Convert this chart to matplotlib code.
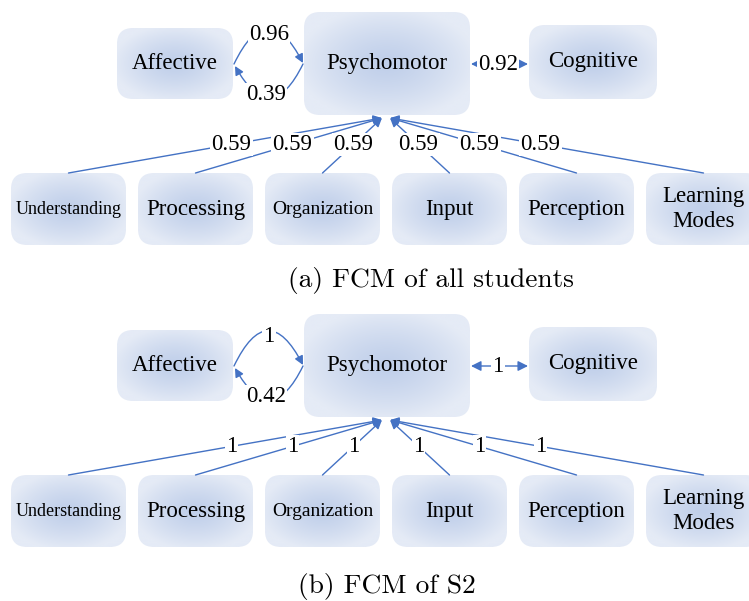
import numpy as np
import matplotlib
matplotlib.use('Agg')
import matplotlib.pyplot as plt
from matplotlib.patches import FancyBboxPatch, FancyArrowPatch

# node names and edge weights
top_nodes = ['Affective', 'Psychomotor', 'Cognitive']
style_nodes = ['Understanding', 'Processing', 'Organization', 'Input', 'Perception', 'Learning\nModes']
style_font = [13, 16.5, 14, 16.5, 16.5, 16.5]

panels = ['(a) FCM of all students', '(b) FCM of S2']
aff_to_psy = ['0.96', '1']
psy_to_aff = ['0.39', '0.42']
psy_cog = ['0.92', '1']
style_to_psy = [['0.59'] * 6, ['1'] * 6]

BLUE = '#4472c4'
SERIF = 'Liberation Serif'

fig = plt.figure(figsize=(7.49, 6.01), dpi=100)
ax = fig.add_axes([0, 0, 1, 1])
ax.set_xlim(0, 749)
ax.set_ylim(601, 0)
ax.axis('off')

c_in = np.array([192, 207, 234]) / 255
c_out = np.array([229, 235, 246]) / 255


def node(x0, y0, x1, y1, text, fs):
    patch = FancyBboxPatch((x0, y0), x1 - x0, y1 - y0,
                           boxstyle='round,pad=0,rounding_size=16',
                           fc='none', ec='none')
    ax.add_patch(patch)
    yy, xx = np.mgrid[-1:1:80j, -1:1:120j]
    d = np.clip(np.sqrt(xx ** 2 + yy ** 2) / 1.1, 0, 1) ** 1.3
    img = c_in[None, None, :] + (c_out - c_in)[None, None, :] * d[..., None]
    im = ax.imshow(img, extent=(x0, x1, y1, y0), interpolation='bilinear', zorder=1)
    im.set_clip_path(patch)
    ax.text((x0 + x1) / 2, (y0 + y1) / 2, text, ha='center', va='center',
            fontsize=fs, family=SERIF, linespacing=1.25, zorder=3)


def label(x, y, s):
    ax.text(x, y, s, ha='center', va='center', fontsize=16.5, family=SERIF, zorder=4,
            bbox=dict(boxstyle='square,pad=0.05', fc='white', ec='none'))


def arrow(p0, p1, style='-|>', conn='arc3', ms=13):
    a = FancyArrowPatch(p0, p1, arrowstyle=style, mutation_scale=ms, color=BLUE,
                        lw=1.0, connectionstyle=conn, shrinkA=0, shrinkB=0, zorder=2)
    ax.add_patch(a)


caption_pos = [(431, 281), (387, 586)]

for k in range(2):
    dy = k * 302
    node(117, 28 + dy, 233, 99 + dy, top_nodes[0], 16.5)
    node(304, 12 + dy, 470, 115 + dy, top_nodes[1], 16.5)
    node(529, 25 + dy, 657, 99 + dy, top_nodes[2], 16.5)

    # Affective <-> Psychomotor arcs
    arrow((234, 64 + dy), (303, 63 + dy), conn='arc3,rad=-1.0')
    arrow((303, 64 + dy), (235, 66 + dy), conn='arc3,rad=-0.95')
    label(269, 34 + dy, aff_to_psy[k])
    label(266, 95 + dy, psy_to_aff[k])

    # Psychomotor <-> Cognitive
    arrow((471, 64 + dy), (528, 64 + dy), style='<|-|>', ms=15)
    label(498, 64 + dy, psy_cog[k])

    # learning style nodes
    for i, name in enumerate(style_nodes):
        x0 = 11 + i * 127
        node(x0, 173 + dy, x0 + 115, 245 + dy, name, style_font[i])
        start = np.array([x0 + 57.5, 173 + dy])
        end = np.array([382 if i < 3 else 390, 118 + dy])
        arrow(tuple(start), tuple(end))
        p = start + 0.52 * (end - start)
        label(p[0], p[1], style_to_psy[k][i])

    cx, cy = caption_pos[k]
    ax.text(cx, cy, panels[k], ha='center', va='center', fontsize=19.8, family='cmr10')

fig.savefig('out.png', dpi=100)
